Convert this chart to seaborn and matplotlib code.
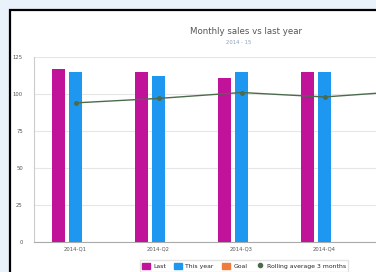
import pandas as pd
import matplotlib.pyplot as plt
import seaborn as sns
from matplotlib.patches import Rectangle

# --- data ---
periods = ["2014-Q1", "2014-Q2", "2014-Q3", "2014-Q4"]
last_year = [117, 115, 111, 115]
this_year = [115, 112, 115, 115]
target = [0, 0, 0, 0]
rolling_avg = [94, 97, 101, 98, 102]
series_names = ["Last", "This year", "Goal"]
line_name = "Rolling average 3 months"
colors = ["#c0139a", "#1d97f0", "#ef7b3c"]
line_color = "#4c6b4c"

df = pd.DataFrame({
    "period": periods * 3,
    "value": last_year + this_year + target,
    "series": [s for s in series_names for _ in periods],
})

sns.set_theme(style="white")
plt.rcParams['font.family'] = ['DejaVu Sans']

fig = plt.figure(figsize=(3.76, 2.72), dpi=100)
fig.patch.set_facecolor("#e9f1fa")

# white panel with black frame (cropped screenshot look)
W, H = 376, 272
fig.patches.append(Rectangle((10 / W, -20 / H), 420 / W, 282 / H,
                             transform=fig.transFigure, facecolor="white",
                             edgecolor="black", linewidth=1.6, zorder=-5))

ax = fig.add_axes([34 / W, 30 / H, 415 / W, 185 / H])
ax.set_zorder(2)
ax.patch.set_alpha(0)

sns.barplot(data=df, x="period", y="value", hue="series", palette=colors,
            saturation=1, width=0.61, gap=0.27, linewidth=0, ax=ax,
            legend=False, zorder=3)

ax.plot(range(len(rolling_avg)), rolling_avg, color=line_color, linewidth=1.0,
        marker="o", markersize=2.5, zorder=4)

ax.set_xlim(-0.5, 4.5)
ax.set_ylim(0, 125)
ax.set_yticks([0, 25, 50, 75, 100, 125])
ax.yaxis.grid(True, color="#e6e6e6", linewidth=0.8, zorder=0)
ax.set_axisbelow(True)
ax.set_xlabel("")
ax.set_ylabel("")
ax.tick_params(axis="both", labelsize=3.8, colors="#555555", length=0, pad=3)
ax.tick_params(axis="y", length=3, color="#cccccc", width=0.8, pad=5)
for s in ["top", "right"]:
    ax.spines[s].set_visible(False)
ax.spines["left"].set_color("#cccccc")
ax.spines["bottom"].set_color("#aaaaaa")
ax.spines["left"].set_linewidth(0.8)
ax.spines["bottom"].set_linewidth(0.8)

fig.text(246 / W, 1 - 32 / H, "Monthly sales vs last year", ha="center",
         va="center", fontsize=6.2, color="#555555")
fig.text(239 / W, 1 - 42 / H, "2014 - 15", ha="center", va="center",
         fontsize=3.8, color="#8aa0bb")

handles = [Rectangle((0, 0), 1, 1, color=c) for c in colors]
handles.append(plt.Line2D([], [], color=line_color, marker="o", markersize=3,
                          linewidth=0))
fig.legend(handles, series_names + [line_name], loc="upper center",
           bbox_to_anchor=(244 / W, 1 - 257 / H), ncol=4, fontsize=4.4,
           frameon=True, edgecolor="#dddddd", handlelength=1.3,
           handleheight=1.3, columnspacing=1.4, handletextpad=0.5,
           borderpad=0.4, fancybox=False)

fig.savefig("out.png", dpi=100)
